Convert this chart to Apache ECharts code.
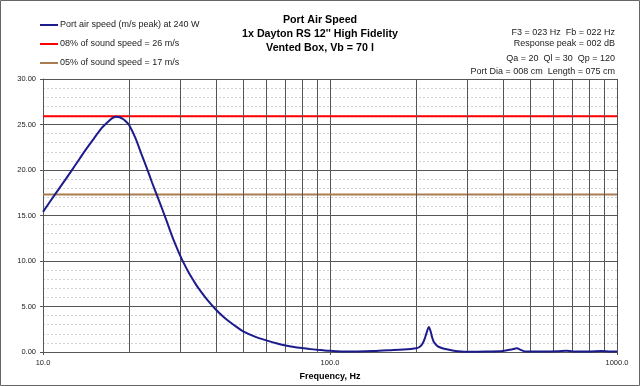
<!DOCTYPE html>
<html>
<head>
<meta charset="utf-8">
<script src="https://cdn.jsdelivr.net/npm/echarts@6/dist/echarts.min.js"></script>
<style>html,body{margin:0;padding:0;background:#fff;}#c{width:640px;height:386px;}</style>
</head>
<body>
<div id="c"></div>
<script>
// ---- data ----
const freqHz = [10, 11, 12, 13, 14, 15, 16, 17, 17.5, 18, 18.5, 19, 19.5, 20, 21, 22, 23, 24, 25, 26, 27, 28, 29, 30, 31, 32, 33, 34, 35, 37, 40, 42.5, 45, 47.5, 50, 55, 60, 65, 70, 75, 80, 85, 90, 100, 110, 120, 140, 160, 180, 200, 205, 210, 214, 218, 221, 224, 227, 230, 235, 240, 250, 270, 300, 350, 400, 430, 447, 465, 480, 550, 620, 667, 700, 800, 880, 950, 1000];
const portSpeed = [15.4, 17.3, 19.0, 20.6, 22.1, 23.4, 24.6, 25.4, 25.72, 25.85, 25.8, 25.6, 25.3, 24.9, 23.5, 21.8, 20.2, 18.6, 17.15, 15.74, 14.35, 12.96, 11.74, 10.65, 9.71, 8.88, 8.15, 7.49, 6.9, 5.89, 4.67, 3.88, 3.24, 2.7, 2.23, 1.66, 1.28, 0.96, 0.72, 0.55, 0.43, 0.33, 0.25, 0.13, 0.06, 0.05, 0.1, 0.2, 0.28, 0.42, 0.55, 0.9, 1.5, 2.3, 2.75, 2.3, 1.6, 1.1, 0.75, 0.55, 0.35, 0.15, 0.03, 0.05, 0.12, 0.28, 0.4, 0.2, 0.05, 0.05, 0.08, 0.15, 0.06, 0.05, 0.12, 0.05, 0.05];
const limit8 = 25.9;
const limit5 = 17.3;
const freqRange = [10, 1000];
const extraGridFreqs = [20, 30, 40, 50, 60, 70, 80, 90, 200, 300, 400, 500, 600, 700, 800, 900];
const seriesNames = ['Port air speed (m/s peak) at 240 W', '08% of sound speed = 26 m/s', '05% of sound speed = 17 m/s'];
const titleLines = ['Port Air Speed', "1x Dayton RS 12'' High Fidelity", 'Vented Box, Vb = 70 l'];
const infoLines = ['F3 = 023 Hz  Fb = 022 Hz', 'Response peak = 002 dB', 'Qa = 20  Ql = 30  Qp = 120', 'Port Dia = 008 cm  Length = 075 cm'];

const chart = echarts.init(document.getElementById('c'), null, {renderer: 'canvas'});
const font = 'Liberation Sans, Arial, sans-serif';
const gridColor = '#555';

const option = {
  backgroundColor: '#fff',
  animation: false,
  textStyle: {fontFamily: font},
  grid: {left: 43, right: 23, top: 79, bottom: 34, show: false},
  legend: {
    orient: 'vertical', left: 40, top: 19, itemGap: 7, padding: 0,
    itemWidth: 18, itemHeight: 2, icon: 'rect',
    textStyle: {fontFamily: font, fontSize: 9, color: '#222', lineHeight: 12, padding: [0,0,0,-3]},
    data: seriesNames
  },
  graphic: [
    {type: 'rect', shape: {x: 0.5, y: 0.5, width: 639, height: 385}, style: {fill: 'none', stroke: '#666', lineWidth: 1}, silent: true},
    {type: 'text', x: 320, y: 13, style: {text: titleLines.join('\n'), font: 'bold 10.7px ' + font, fill: '#000', align: 'center', lineHeight: 14}},
    {type: 'text', x: 615, y: 28.5, style: {text: infoLines[0], font: '9px ' + font, fill: '#222', align: 'right'}},
    {type: 'text', x: 615, y: 39.5, style: {text: infoLines[1], font: '9px ' + font, fill: '#222', align: 'right'}},
    {type: 'text', x: 615, y: 54, style: {text: infoLines[2], font: '9px ' + font, fill: '#222', align: 'right'}},
    {type: 'text', x: 615, y: 67, style: {text: infoLines[3], font: '9px ' + font, fill: '#222', align: 'right'}}
  ],
  xAxis: {
    type: 'log', logBase: 10, min: freqRange[0], max: freqRange[1],
    name: 'Frequency, Hz', nameLocation: 'middle', nameGap: 19,
    nameTextStyle: {fontFamily: font, fontSize: 9, fontWeight: 'bold', color: '#000'},
    axisLine: {show: true, lineStyle: {color: gridColor, width: 1}},
    axisTick: {show: true, length: 3, lineStyle: {color: gridColor}},
    axisLabel: {fontFamily: font, fontSize: 7.5, color: '#222', margin: 7, formatter: v => Number(v).toFixed(1)},
    splitLine: {show: true, lineStyle: {color: gridColor, width: 1}}
  },
  yAxis: {
    type: 'value', min: 0, max: 30, interval: 5,
    axisLine: {show: true, lineStyle: {color: gridColor, width: 1}},
    axisTick: {show: true, length: 3, lineStyle: {color: gridColor}},
    axisLabel: {fontFamily: font, fontSize: 7.5, color: '#222', margin: 7, formatter: v => v.toFixed(2)},
    splitLine: {show: true, lineStyle: {color: gridColor, width: 1}},
    minorTick: {show: false, splitNumber: 5},
    minorSplitLine: {show: true, lineStyle: {color: '#d2d2d2', width: 1, type: [2, 2]}}
  },
  series: [
    {
      name: seriesNames[0], type: 'line', symbol: 'none', smooth: 0.25, z: 5,
      lineStyle: {color: '#1c1c8c', width: 2}, itemStyle: {color: '#1c1c8c'},
      data: freqHz.map((f, i) => [f, portSpeed[i]]),
      markLine: {
        silent: true, symbol: 'none', label: {show: false},
        lineStyle: {color: gridColor, width: 1, type: 'solid'},
        data: extraGridFreqs.map(f => ({xAxis: f}))
      }
    },
    {
      name: seriesNames[1], type: 'line', symbol: 'none', z: 4,
      lineStyle: {color: '#ff0000', width: 2}, itemStyle: {color: '#ff0000'},
      data: freqRange.map(f => [f, limit8])
    },
    {
      name: seriesNames[2], type: 'line', symbol: 'none', z: 4,
      lineStyle: {color: '#a97d50', width: 2}, itemStyle: {color: '#a97d50'},
      data: freqRange.map(f => [f, limit5])
    }
  ]
};
chart.setOption(option);
</script>
</body>
</html>
